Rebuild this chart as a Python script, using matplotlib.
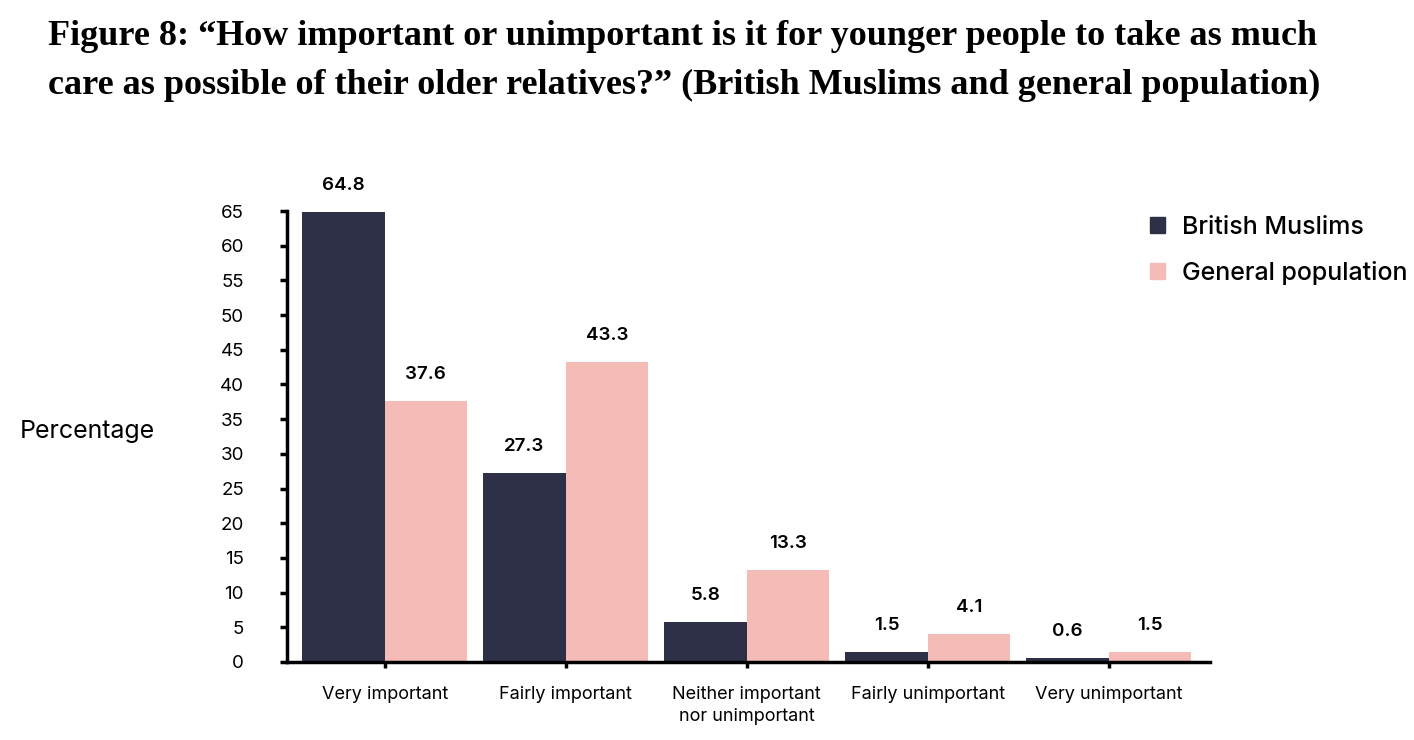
import matplotlib
matplotlib.use("Agg")
import matplotlib.pyplot as plt
import numpy as np
from matplotlib.patches import Patch

categories = ["Very important", "Fairly important", "Neither important\nnor unimportant",
              "Fairly unimportant", "Very unimportant"]
muslims = [64.8, 27.3, 5.8, 1.5, 0.6]
general = [37.6, 43.3, 13.3, 4.1, 1.5]
series_names = ["British Muslims", "General population"]
yticks = list(range(0, 70, 5))

navy = "#2E3047"
pink = "#F5BCB7"
sans = ["Inter", "DejaVu Sans"]

fig = plt.figure(figsize=(14.14, 7.40), dpi=100)
ax = fig.add_axes([287/1414, 1-662/740, (1210-287)/1414, (662-211)/740])

x = np.arange(len(categories))
w = 0.455
b1 = ax.bar(x - w/2, muslims, w, color=navy, label=series_names[0])
b2 = ax.bar(x + w/2, general, w, color=pink, label=series_names[1])

for bars, vals in ((b1, muslims), (b2, general)):
    for r, v in zip(bars, vals):
        ax.annotate(f"{v}", (r.get_x() + r.get_width()/2, v), xytext=(0, 19),
                    textcoords="offset points", ha="center", va="center",
                    fontsize=13.5, fontweight="semibold", family=sans, color="black")

ax.set_xlim(-0.54, 4.56)
ax.set_ylim(0, 65)
ax.set_yticks(yticks)
ax.set_xticks(x)
ax.set_xticklabels(categories, family=sans, fontsize=13, linespacing=1.45)
for lab in ax.get_yticklabels():
    lab.set_family(sans)
    lab.set_fontsize(13.5)
ax.tick_params(axis="y", direction="out", length=5, width=2.5, pad=26)
ax.tick_params(axis="x", direction="out", length=4, width=2.5, pad=13)
for s in ("top", "right"):
    ax.spines[s].set_visible(False)
for s in ("left", "bottom"):
    ax.spines[s].set_linewidth(2.5)

fig.text(20/1414, 1-431/740, "Percentage", family=sans, fontsize=18, va="center", ha="left")

handles = [Patch(color=navy, label=series_names[0]), Patch(color=pink, label=series_names[1])]
fig.legend(handles=handles, loc="upper left", bbox_to_anchor=(1150/1414, 1-216/740),
           frameon=False, prop={"family": sans, "size": 18, "weight": "medium"},
           handlelength=0.58, handleheight=0.58, handletextpad=0.72, labelspacing=0.88,
           borderaxespad=0, borderpad=0)

fig.text(48/1414, 1-20/740,
         "Figure 8: \u201cHow important or unimportant is it for younger people to take as much\n"
         "care as possible of their older relatives?\u201d (British Muslims and general population)",
         family=["Liberation Serif", "DejaVu Serif"], fontweight="bold", fontsize=26,
         va="top", ha="left", linespacing=1.62)

fig.savefig("out.png", dpi=100)
